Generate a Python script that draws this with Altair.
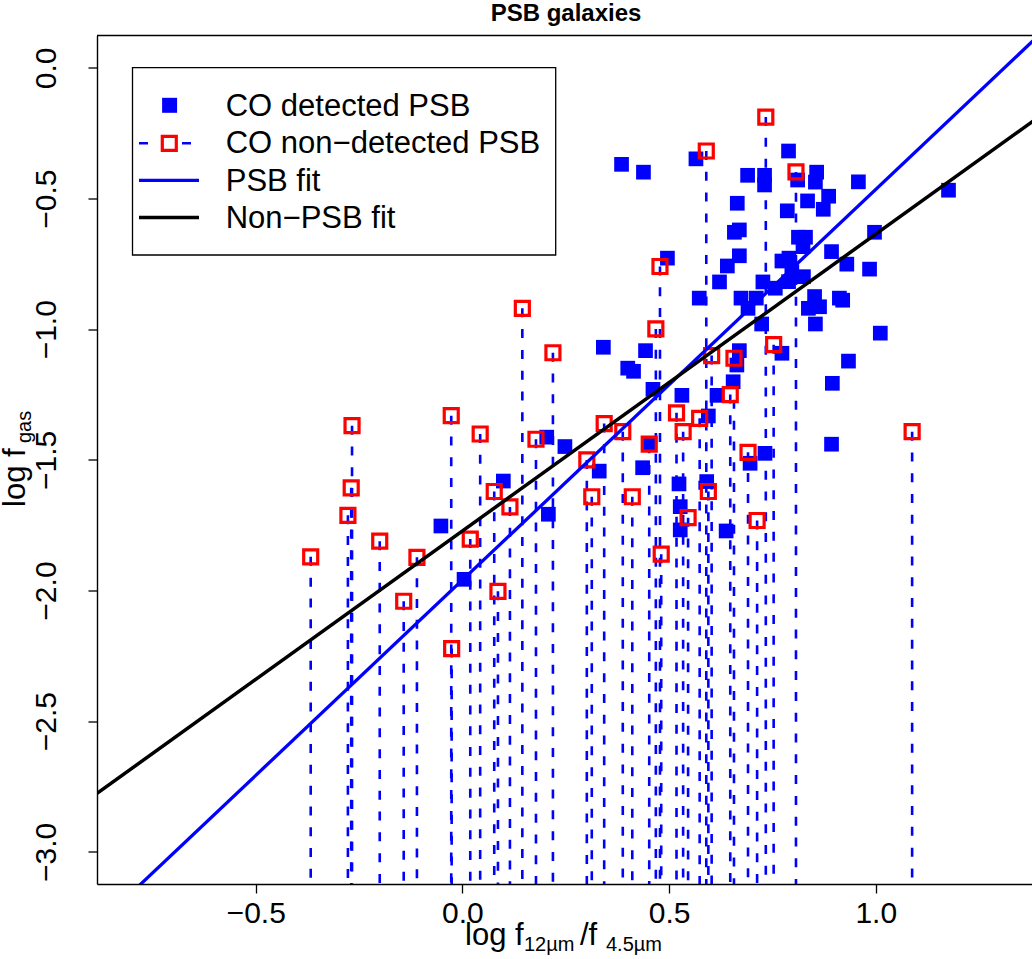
import altair as alt
import pandas as pd

# ---- data ----
det_x = [0.385, 0.438, 0.565, 0.789, 0.690, 0.731, 0.731, 0.811, 0.857, 0.854,
         0.958, 0.665, 0.835, 0.886, 0.873, 0.786, 1.176, 0.658, 0.670, 0.813,
         0.830, 0.997, 0.824, 0.893, 0.670, 0.641, 0.790, 0.773, 0.930, 0.985,
         0.622, 0.727, 0.797, 0.825, 0.757, 0.789, 0.573, 0.674, 0.711, 0.691,
         0.852, 0.837, 0.864, 0.912, 0.920, 0.724, 0.854, 1.011, 0.496, 0.341,
         0.443, 0.400, 0.414, 0.461, 0.531, 0.616, 0.655, 0.670, 0.664, 0.773,
         0.595, 0.452, 0.248, 0.331, 0.436, 0.732, 0.696, 0.524, 0.591, 0.527,
         0.527, 0.638, 0.204, 0.099, -0.052, 0.004, 0.208, 0.934, 0.895, 0.893]
det_y = [-0.369, -0.399, -0.348, -0.318, -0.411, -0.411, -0.448, -0.429, -0.399, -0.437,
         -0.436, -0.518, -0.509, -0.491, -0.541, -0.547, -0.468, -0.629, -0.620, -0.648,
         -0.648, -0.629, -0.684, -0.703, -0.719, -0.758, -0.728, -0.739, -0.751, -0.770,
         -0.819, -0.819, -0.780, -0.799, -0.843, -0.818, -0.881, -0.881, -0.881, -0.920,
         -0.875, -0.920, -0.914, -0.881, -0.889, -0.980, -0.980, -1.015, -0.728, -1.069,
         -1.082, -1.149, -1.161, -1.230, -1.253, -1.253, -1.201, -1.082, -1.137, -1.092,
         -1.332, -1.439, -1.449, -1.543, -1.530, -1.475, -1.513, -1.592, -1.583, -1.679,
         -1.768, -1.772, -1.413, -1.581, -1.753, -1.957, -1.708, -1.122, -1.207, -1.440]

nd_x = [-0.367, -0.267, -0.269, -0.277, -0.200, -0.142, -0.110, -0.027, -0.026, 0.019,
        0.043, 0.077, 0.086, 0.115, 0.145, 0.178, 0.219, 0.301, 0.313, 0.343,
        0.388, 0.411, 0.452, 0.468, 0.478, 0.481, 0.518, 0.534, 0.546, 0.574,
        0.590, 0.595, 0.603, 0.648, 0.657, 0.691, 0.713, 0.734, 0.753, 0.807, 1.088]
nd_y = [-1.871, -1.369, -1.607, -1.712, -1.811, -2.041, -1.873, -1.331, -2.222, -1.803,
        -1.401, -1.621, -2.003, -1.680, -0.920, -1.421, -1.090, -1.500, -1.641, -1.361,
        -1.392, -1.641, -1.440, -0.999, -0.760, -1.861, -1.320, -1.392, -1.721, -1.341,
        -0.318, -1.621, -1.101, -1.250, -1.111, -1.471, -1.732, -0.188, -1.059, -0.398, -1.392]

fit_names = ["PSB fit", "Non-PSB fit"]
fit_slope = [1.495, 1.136]
fit_icept = [-1.960, -1.772]

x_ticks = [-0.5, 0.0, 0.5, 1.0]
y_ticks = [0.0, -0.5, -1.0, -1.5, -2.0, -2.5, -3.0]
X_DOM = [-0.884, 1.378]
Y_DOM = [-3.123, 0.124]

legend_labels = ["CO detected PSB", "CO non\u2212detected PSB", "PSB fit", "Non\u2212PSB fit"]

# ---- layout ----
W, H = 935, 848.5
PL, PT = 97, 35.5
FONT = "Liberation Sans"
BLUE, RED = "#0000FF", "#FF0000"
DASH = [9, 11.8]

det = pd.DataFrame({"x": det_x, "y": det_y})
nd = pd.DataFrame({"x": nd_x, "y": nd_y})
fits = pd.DataFrame(
    [{"fit": n, "x": xv, "y": b + m * xv}
     for n, m, b in zip(fit_names, fit_slope, fit_icept)
     for xv in (X_DOM[0] - 0.1, X_DOM[1] + 0.1)]
)

xs = alt.Scale(domain=X_DOM, nice=False, zero=False)
ys = alt.Scale(domain=Y_DOM, nice=False, zero=False)
xax = alt.Axis(values=x_ticks, format=".1f", labelPadding=29, labelBaseline="alphabetic",
               labelAlign="center")
yax = alt.Axis(values=y_ticks, format=".1f", labelAngle=270, labelAlign="center",
               labelBaseline="alphabetic", labelPadding=33)

X = alt.X("x:Q", scale=xs, axis=xax)
Y = alt.Y("y:Q", scale=ys, axis=yax)

dashes = alt.Chart(nd).mark_rule(color=BLUE, strokeWidth=2.6, strokeDash=DASH).encode(
    x=X, y=Y, y2=alt.value(H))
blue_pts = alt.Chart(det).mark_square(color=BLUE, size=216, opacity=1).encode(x=X, y=Y)
red_pts = alt.Chart(nd).mark_square(filled=False, stroke=RED, strokeWidth=3.2, size=196,
                                    opacity=1).encode(x=X, y=Y)
psb_line = alt.Chart(fits[fits.fit == fit_names[0]]).mark_line(
    color=BLUE, strokeWidth=3.3, clip=True).encode(x=X, y=Y)
non_line = alt.Chart(fits[fits.fit == fit_names[1]]).mark_line(
    color="black", strokeWidth=3.5, clip=True).encode(x=X, y=Y)

top_border = alt.Chart(pd.DataFrame({"a": [0]})).mark_rule(color="black", strokeWidth=1.3).encode(
    x=alt.value(0), x2=alt.value(W), y=alt.value(0))


def txt(s, x, y, size=30, angle=0, weight="normal", align="left"):
    return alt.Chart(pd.DataFrame({"t": [s]})).mark_text(
        font=FONT, fontSize=size, angle=angle, fontWeight=weight, align=align,
        baseline="alphabetic", color="black").encode(
        text="t:N", x=alt.value(x), y=alt.value(y))


# legend
leg_box = alt.Chart(pd.DataFrame({"a": [0]})).mark_rect(
    fill="white", stroke="black", strokeWidth=1.3).encode(
    x=alt.value(132.5 - PL), x2=alt.value(555.7 - PL),
    y=alt.value(67.7 - PT), y2=alt.value(255 - PT))
leg_sq = alt.Chart(pd.DataFrame({"a": [0]})).mark_square(color=BLUE, size=225, opacity=1).encode(
    x=alt.value(169.6 - PL), y=alt.value(105.3 - PT))
leg_dash = alt.Chart(pd.DataFrame({"a": [0]})).mark_rule(
    color=BLUE, strokeWidth=2.6, strokeDash=[9, 34]).encode(
    x=alt.value(139 - PL), x2=alt.value(192 - PL), y=alt.value(143.3 - PT))
leg_red = alt.Chart(pd.DataFrame({"a": [0]})).mark_square(
    filled=False, stroke=RED, strokeWidth=3.2, size=196, opacity=1).encode(
    x=alt.value(169.3 - PL), y=alt.value(143.3 - PT))
leg_l1 = alt.Chart(pd.DataFrame({"a": [0]})).mark_rule(color=BLUE, strokeWidth=3.3).encode(
    x=alt.value(139 - PL), x2=alt.value(199 - PL), y=alt.value(180.3 - PT))
leg_l2 = alt.Chart(pd.DataFrame({"a": [0]})).mark_rule(color="black", strokeWidth=3.5).encode(
    x=alt.value(139 - PL), x2=alt.value(199 - PL), y=alt.value(217.5 - PT))
leg_txt = [txt(s, 225.7 - PL, yb - PT, size=31)
           for s, yb in zip(legend_labels, [115.7, 153.3, 190.9, 228.3])]

# titles
title = txt("PSB galaxies", 566 - PL, 20.5 - PT, size=24, weight="bold", align="center")
xt = [txt("log f", 465 - PL, 945 - PT, size=31),
      txt("12\u00b5m", 524 - PL, 951 - PT, size=20),
      txt("/f", 580 - PL, 945 - PT, size=31),
      txt("4.5\u00b5m", 606 - PL, 951 - PT, size=20)]
yt = [txt("log f", 25 - PL, 507 - PT, size=31, angle=270),
      txt("gas", 31 - PL, 443 - PT, size=20, angle=270)]

chart = alt.layer(
    dashes, blue_pts, red_pts, psb_line, non_line, top_border,
    leg_box, leg_dash, leg_sq, leg_red, leg_l1, leg_l2, *leg_txt,
    title, *xt, *yt
).properties(
    width=W, height=H,
    padding={"left": PL, "top": PT, "right": 0, "bottom": 959 - PT - H},
    autosize=alt.AutoSizeParams(type="none"),
).configure_view(stroke=None).configure_axis(
    grid=False, title=None, domainColor="black", domainWidth=1.4,
    tickColor="black", tickWidth=1.3, tickSize=9,
    labelColor="black", labelFont=FONT, labelFontSize=30,
)

chart.save("out.html", embed_options={"renderer": "svg", "actions": False})
